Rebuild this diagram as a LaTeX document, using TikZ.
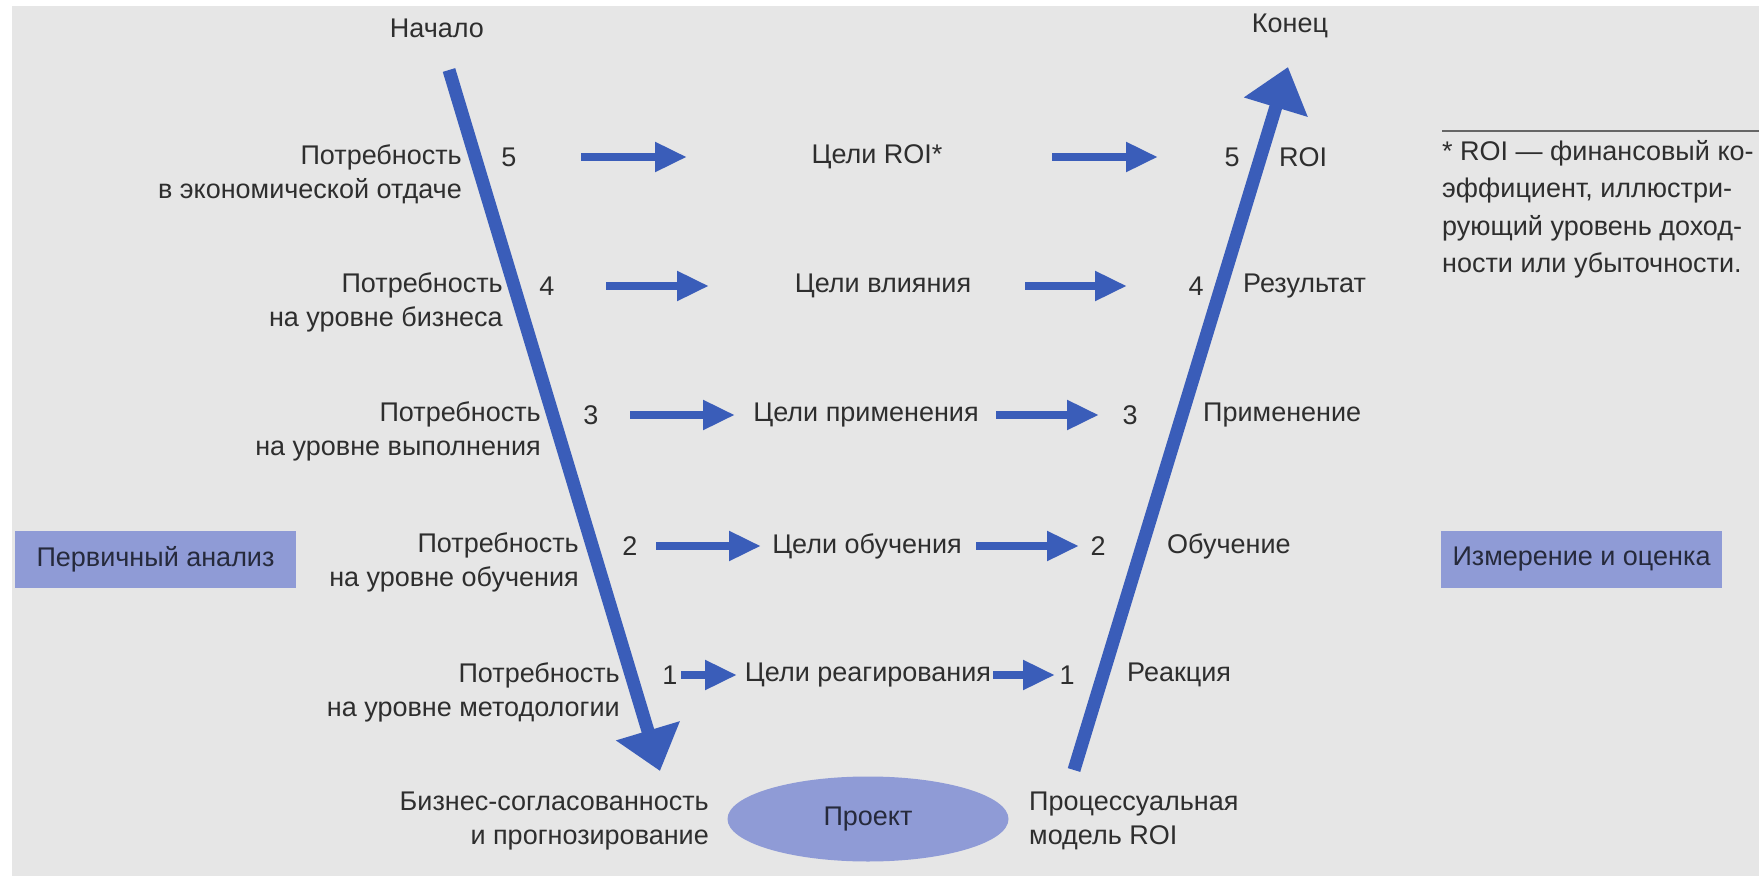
\documentclass[tikz,border=0pt]{standalone}
\usepackage{fontspec}
\setmainfont{Liberation Sans}
\usetikzlibrary{arrows.meta,shapes.geometric}
\definecolor{bg}{HTML}{E6E6E6}
\definecolor{arrowblue}{HTML}{3A5DB9}
\definecolor{lav}{HTML}{8F9BD6}
\definecolor{txt}{HTML}{2E2E2E}
\definecolor{boxtxt}{HTML}{262A3C}
\begin{document}
\begin{tikzpicture}[x=1pt,y=-1pt,
  lbl/.style={inner sep=0pt, text=txt, font=\fontsize{27pt}{34pt}\selectfont},
  need/.style={lbl, anchor=east, align=right},
  res/.style={lbl, anchor=west},
  bigarrow/.style={draw=arrowblue, line width=13pt, -{Triangle[length=42pt,width=64pt]}},
  rowarrow/.style={draw=arrowblue, line width=8pt, -{Triangle[length=32pt,width=28pt]}},
  phase/.style={lbl, text=boxtxt, fill=lav, minimum width=281pt, minimum height=57pt}]
\useasboundingbox (0,0) rectangle (1759,893);
\fill[white] (0,0) rectangle (1759,893);
\fill[bg] (12,6) rectangle (1759,876);

% main V arrows
\coordinate (vstart) at (449,70);
\coordinate (vbottomL) at (660,771);
\coordinate (vbottomR) at (1074,770);
\coordinate (vend) at (1288,67);
\draw[bigarrow] (vstart) -- (vbottomL);
\draw[bigarrow] (vbottomR) -- (vend);

\node[lbl] (start) at (437,28) {Начало};
\node[lbl] (end) at (1290,26) {Конец};

% row 5
\node[need] (need5) at (462,174) {Потребность\\в экономической отдаче};
\node[lbl] (nl5) at (509,157) {5};
\node[lbl] (goal5) at (877,157) {Цели ROI*};
\node[lbl] (nr5) at (1232,157) {5};
\node[res] (res5) at (1279,157) {ROI};
\coordinate (a5a) at (581,157); \coordinate (a5b) at (687,157);
\coordinate (b5a) at (1052,157); \coordinate (b5b) at (1158,157);
\draw[rowarrow] (a5a) -- (a5b);
\draw[rowarrow] (b5a) -- (b5b);

% row 4
\node[need] (need4) at (503,302) {Потребность\\на уровне бизнеса};
\node[lbl] (nl4) at (547,286) {4};
\node[lbl] (goal4) at (883,286) {Цели влияния};
\node[lbl] (nr4) at (1196,286) {4};
\node[res] (res4) at (1243,286) {Результат};
\coordinate (a4a) at (606,286); \coordinate (a4b) at (709,286);
\coordinate (b4a) at (1025,286); \coordinate (b4b) at (1127,286);
\draw[rowarrow] (a4a) -- (a4b);
\draw[rowarrow] (b4a) -- (b4b);

% row 3
\node[need] (need3) at (541,431) {Потребность\\на уровне выполнения};
\node[lbl] (nl3) at (591,415) {3};
\node[lbl] (goal3) at (866,415) {Цели применения};
\node[lbl] (nr3) at (1130,415) {3};
\node[res] (res3) at (1203,415) {Применение};
\coordinate (a3a) at (630,415); \coordinate (a3b) at (735,415);
\coordinate (b3a) at (996,415); \coordinate (b3b) at (1099,415);
\draw[rowarrow] (a3a) -- (a3b);
\draw[rowarrow] (b3a) -- (b3b);

% row 2
\node[need] (need2) at (579,562) {Потребность\\на уровне обучения};
\node[lbl] (nl2) at (630,546) {2};
\node[lbl] (goal2) at (867,546) {Цели обучения};
\node[lbl] (nr2) at (1098,546) {2};
\node[res] (res2) at (1167,546) {Обучение};
\coordinate (a2a) at (656,546); \coordinate (a2b) at (761,546);
\coordinate (b2a) at (976,546); \coordinate (b2b) at (1079,546);
\draw[rowarrow] (a2a) -- (a2b);
\draw[rowarrow] (b2a) -- (b2b);

% row 1
\node[need] (need1) at (620,692) {Потребность\\на уровне методологии};
\node[lbl] (nl1) at (670,675) {1};
\node[lbl] (goal1) at (868,675) {Цели реагирования};
\node[lbl] (nr1) at (1067,675) {1};
\node[res] (res1) at (1127,675) {Реакция};
\coordinate (a1a) at (681,675); \coordinate (a1b) at (737,675);
\coordinate (b1a) at (993,675); \coordinate (b1b) at (1055,675);
\draw[rowarrow] (a1a) -- (a1b);
\draw[rowarrow] (b1a) -- (b1b);

% bottom
\node[need] (align) at (709,821) {Бизнес-согласованность\\и прогнозирование};
\node[lbl, ellipse, fill=lav, text=boxtxt, minimum width=281pt, minimum height=85pt] (proj) at (868,819) {Проект};
\node[res, align=left] (model) at (1029,821) {Процессуальная\\модель ROI};

% phases
\node[phase] (pre) at (155.5,559.5) {Первичный анализ};
\node[phase] (meas) at (1581.5,559.5) {Измерение и оценка};

% footnote
\coordinate (fa) at (1442,131); \coordinate (fb) at (1759,131);
\draw[draw=gray!80!black, line width=1.5pt] (fa) -- (fb);
\node[lbl, anchor=north west, align=left, font=\fontsize{27pt}{37.5pt}\selectfont] (note) at (1442,140)
 {* ROI — финансовый ко-\\эффициент, иллюстри-\\рующий уровень доход-\\ности или убыточности.};
\end{tikzpicture}
\end{document}
